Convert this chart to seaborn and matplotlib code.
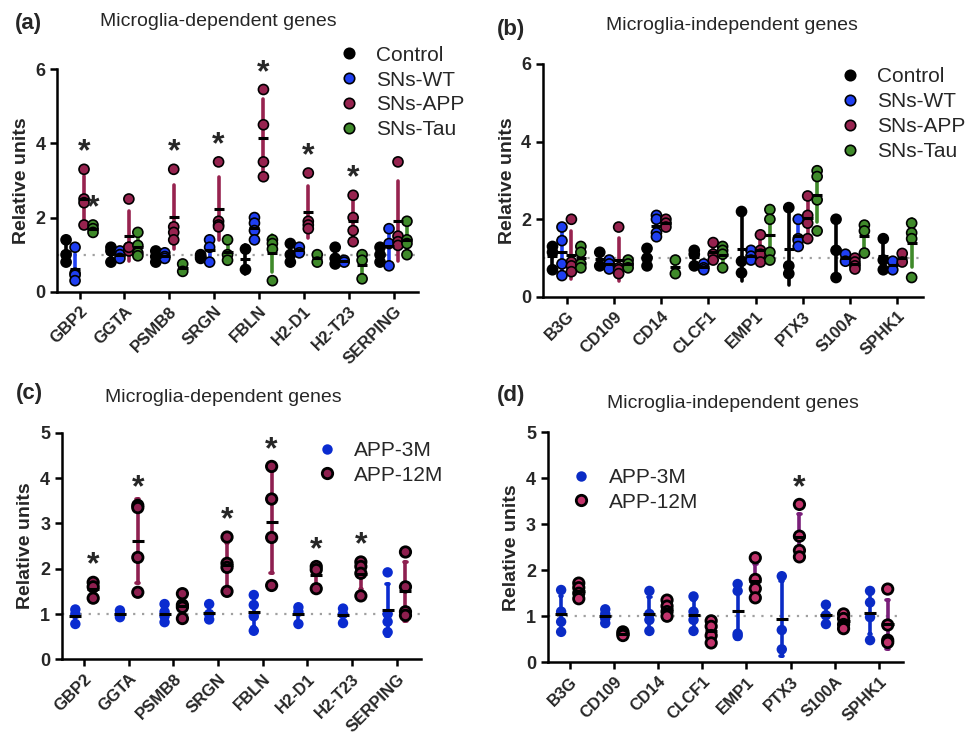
import numpy as np
import pandas as pd
import matplotlib
matplotlib.use('Agg')
import matplotlib.pyplot as plt
import seaborn as sns
from matplotlib.lines import Line2D

# ---- genes ----
genes_dep = ['GBP2', 'GGTA', 'PSMB8', 'SRGN', 'FBLN', 'H2-D1', 'H2-T23', 'SERPING']
genes_ind = ['B3G', 'CD109', 'CD14', 'CLCF1', 'EMP1', 'PTX3', 'S100A', 'SPHK1']

# ---- (a) microglia-dependent, per gene replicates ----
a_control = [[1.4, 1.0, 0.8], [1.2, 1.1, 0.8], [1.1, 0.95, 0.8], [1.0, 0.95, 0.9],
             [1.15, 0.6], [1.3, 1.0, 0.8], [1.2, 0.9, 0.75], [1.2, 1.0, 0.8]]
a_wt = [[1.2, 0.5, 0.45, 0.3], [1.1, 1.0, 0.9], [1.05, 0.95, 0.9], [1.4, 1.2, 0.8],
        [2.0, 1.85, 1.65, 1.4], [1.2, 1.05], [0.85, 0.8], [1.7, 1.3, 0.7]]
a_app = [[3.3, 2.5, 2.4, 1.8], [2.5, 1.2, 1.1, 1.2], [3.3, 1.75, 1.6, 1.4], [3.5, 1.9, 1.8, 1.75],
         [5.45, 4.5, 3.5, 3.1], [3.2, 1.9, 1.8, 1.7], [2.6, 2.0, 1.65, 1.35], [3.5, 1.5, 1.35, 1.25]]
a_tau = [[1.8, 1.7, 1.6], [1.6, 1.25, 1.05, 0.97], [0.75, 0.55], [1.4, 1.0, 0.85],
         [1.4, 1.3, 1.15, 0.3], [1.0, 0.8], [1.0, 0.85, 0.35], [1.9, 1.4, 1.3, 1.0]]
a_sig_app = ['GBP2', 'PSMB8', 'SRGN', 'FBLN', 'H2-D1', 'H2-T23']
a_sig_tau = ['GBP2']

# ---- (b) microglia-independent ----
b_control = [[1.3, 1.15, 0.7], [1.15, 0.8], [1.25, 1.0, 0.8], [1.2, 1.1, 0.8],
             [2.2, 0.92, 0.62], [2.3, 0.8, 0.6], [2.0, 1.2, 0.5], [1.5, 0.95, 0.7]]
b_wt = [[1.8, 1.45, 0.85, 0.55], [0.95, 0.85, 0.72], [2.1, 2.0, 1.65, 1.55], [0.85, 0.75, 0.7],
        [1.2, 1.05, 0.95], [2.0, 1.5, 1.45, 1.3], [1.1, 0.92], [0.92, 0.7]]
b_app = [[2.0, 0.9, 0.8, 0.65], [1.8, 0.75, 0.7, 0.6], [2.0, 1.9, 1.8], [1.4, 1.1, 0.95],
         [1.6, 1.2, 1.1, 0.9], [2.6, 2.1, 1.9, 1.5], [1.0, 0.9, 0.8, 0.72], [1.12, 0.9]]
b_tau = [[1.3, 1.15, 0.85, 0.75], [0.95, 0.85, 0.75], [0.95, 0.6], [1.3, 1.2, 1.1, 0.75],
         [2.25, 2.0, 1.15, 0.95], [3.25, 3.1, 2.5, 1.7], [1.85, 1.7, 1.13], [1.9, 1.65, 1.5, 0.5]]

# ---- (c) microglia-dependent, APP 3M vs 12M ----
c_3m = [[1.1, 1.0, 0.78], [1.08, 1.0, 0.93], [1.22, 1.05, 0.95, 0.82], [1.22, 1.0, 0.88],
        [1.42, 1.2, 0.95, 0.63], [1.15, 1.05, 0.78], [1.12, 1.0, 0.8], [1.92, 1.0, 0.83, 0.6]]
c_12m = [[1.7, 1.6, 1.35], [3.4, 3.35, 2.25, 1.48], [1.45, 1.2, 1.15, 0.9], [2.7, 2.12, 2.03, 1.5],
         [4.26, 3.54, 2.69, 1.63], [2.05, 1.98, 1.56], [2.15, 2.05, 1.9, 1.4], [2.37, 1.6, 1.05, 0.97]]
c_sig = ['GBP2', 'GGTA', 'SRGN', 'FBLN', 'H2-D1', 'H2-T23']

# ---- (d) microglia-independent, APP 3M vs 12M ----
d_3m = [[1.57, 1.1, 0.88, 0.66], [1.15, 1.05, 0.95, 0.85], [1.55, 1.05, 0.92, 0.68], [1.43, 1.1, 0.92, 0.68],
        [1.7, 1.55, 0.62, 0.57], [1.87, 0.7, 0.28], [1.25, 1.02, 0.83], [1.55, 1.3, 0.98, 0.48]]
d_12m = [[1.72, 1.62, 1.5, 1.38], [0.66, 0.62, 0.58], [1.35, 1.22, 1.1, 1.0], [0.9, 0.78, 0.58, 0.42],
         [2.27, 1.8, 1.6, 1.4], [3.43, 2.74, 2.43, 2.29], [1.05, 0.95, 0.82, 0.73], [1.59, 0.81, 0.48, 0.43]]
d_sig = ['PTX3']

groups4 = ['Control', 'SNs-WT', 'SNs-APP', 'SNs-Tau']
groups2 = ['APP-3M', 'APP-12M']


def long_table(genes, groups, values):
    rows = []
    for grp, vals in zip(groups, values):
        for g, v in zip(genes, vals):
            for x in v:
                rows.append((g, grp, x))
    return pd.DataFrame(rows, columns=['gene', 'group', 'value'])


def draw_panel(ax, df, genes, groups, fill, edge, edge_w, bar, dot, mean_w, cap, ymax, stars):
    n = len(groups)
    dodge_w = 0.6 if n == 4 else 0.4
    offsets = np.linspace(-dodge_w / 2, dodge_w / 2, n)

    ax.axhline(1, color='#a0a0a0', lw=1.6, ls=(0, (1, 3)), zorder=0)

    # mean +/- SD bars
    sns.pointplot(data=df, x='gene', y='value', hue='group', order=genes, hue_order=groups,
                  palette=dict(zip(groups, bar)), dodge=dodge_w, errorbar='sd', capsize=cap,
                  linestyle='none', markersize=0, legend=False,
                  err_kws={'linewidth': 2.6, 'zorder': 2}, ax=ax)

    # replicate points, one call per group so edges can differ
    for grp, fc, ec, lw in zip(groups, fill, edge, edge_w):
        sns.stripplot(data=df[df.group == grp], x='gene', y='value', hue='group',
                      order=genes, hue_order=groups, palette={g: fc for g in groups},
                      dodge=True, jitter=False, size=dot, edgecolor=ec, linewidth=lw,
                      legend=False, zorder=3, ax=ax)

    # mean line
    sns.pointplot(data=df, x='gene', y='value', hue='group', order=genes, hue_order=groups,
                  palette={g: 'black' for g in groups}, dodge=dodge_w, errorbar=None,
                  linestyle='none', marker='_', markersize=mean_w, markeredgewidth=2.2,
                  legend=False, zorder=4, ax=ax)

    # significance stars
    for grp, sig in stars:
        k = groups.index(grp)
        for g in sig:
            top = df[(df.group == grp) & (df.gene == g)].value.max()
            ax.annotate('*', (genes.index(g) + offsets[k], top), xytext=(0, 12),
                        textcoords='offset points', ha='center', va='center',
                        fontsize=23, fontweight='bold')

    ax.set_xlim(-0.5, 7.55)
    ax.set_ylim(0, ymax)
    ax.set_yticks(np.arange(0, ymax + 0.1, 2 if ymax == 6 else 1))
    ax.set_xticks(range(len(genes)))
    ax.set_xticklabels(genes, rotation=45, ha='right', rotation_mode='anchor',
                       fontsize=12, fontweight='bold')
    for lbl in ax.get_yticklabels():
        lbl.set_fontweight('bold')
    ax.tick_params(axis='both', width=1.8, length=5, color='black')
    ax.tick_params(axis='y', labelsize=13)
    ax.set_xlabel('')
    ax.set_ylabel('Relative units', fontsize=14, fontweight='bold', labelpad=4)
    sns.despine(ax=ax)
    for s in ['left', 'bottom']:
        ax.spines[s].set_linewidth(1.8)
        ax.spines[s].set_color('black')


def add_legend(ax, groups, fill, edge, edge_w, anchor):
    handles = [Line2D([], [], marker='o', ls='none', markersize=7.5, markerfacecolor=fc,
                      markeredgecolor=ec if lw > 0 else fc, markeredgewidth=max(lw, 0.01))
               for fc, ec, lw in zip(fill, edge, edge_w)]
    ax.legend(handles, groups, loc='upper left', bbox_to_anchor=anchor, frameon=False,
              fontsize=15, handlelength=1.0, handletextpad=0.8, labelspacing=0.28,
              borderpad=0, borderaxespad=0)


sns.set_theme(style='ticks')
plt.rcParams['font.family'] = ['Liberation Sans', 'DejaVu Sans']

fig = plt.figure(figsize=(9.68, 7.35), dpi=100)
ax_a = fig.add_axes([0.059, 0.603, 0.373, 0.303])
ax_b = fig.add_axes([0.561, 0.596, 0.393, 0.317])
ax_c = fig.add_axes([0.064, 0.103, 0.371, 0.308])
ax_d = fig.add_axes([0.566, 0.099, 0.367, 0.313])

# colours
fill4 = ['#000000', '#1f3ff2', '#97234f', '#3f8a2a']
edge4 = ['black'] * 4
ew4 = [1.2] * 4
bar4 = ['#000000', '#1f3ff2', '#97234f', '#3f8a2a']

df_a = long_table(genes_dep, groups4, [a_control, a_wt, a_app, a_tau])
draw_panel(ax_a, df_a, genes_dep, groups4, fill4, edge4, ew4, bar4, 7.2, 6.5, 0.0, 6,
           [('SNs-APP', a_sig_app), ('SNs-Tau', a_sig_tau)])
add_legend(ax_a, groups4, fill4, edge4, ew4, (0.78, 1.105))

df_b = long_table(genes_ind, groups4, [b_control, b_wt, b_app, b_tau])
draw_panel(ax_b, df_b, genes_ind, groups4, fill4, edge4, ew4, bar4, 7.2, 6.5, 0.0, 6, [])
add_legend(ax_b, groups4, fill4, edge4, ew4, (0.78, 0.985))

fill_c = ['#0a2bd0', '#8e1f4f']
edge2 = ['none', 'black']
ew2 = [0, 2.0]
df_c = long_table(genes_dep, groups2, [c_3m, c_12m])
draw_panel(ax_c, df_c, genes_dep, groups2, fill_c, edge2, ew2, ['#0a2bd0', '#8e2050'],
           7.5, 9, 0.06, 5, [('APP-12M', c_sig)])
add_legend(ax_c, groups2, fill_c, edge2, ew2, (0.71, 0.965))

fill_d = ['#0a2bc5', '#c2336b']
df_d = long_table(genes_ind, groups2, [d_3m, d_12m])
draw_panel(ax_d, df_d, genes_ind, groups2, fill_d, edge2, ew2, ['#0a2bc5', '#7a1f7a'],
           7.5, 9, 0.06, 5, [('APP-12M', d_sig)])
add_legend(ax_d, groups2, fill_d, edge2, ew2, (0.065, 0.845))

# panel letters and titles (figure pixel positions / size)
W, H = 968, 735
for letter, lx, ly, title, tx, ty in [('(a)', 15, 24, 'Microglia-dependent genes', 100, 21),
                                       ('(b)', 497, 30, 'Microglia-independent genes', 606, 25),
                                       ('(c)', 16, 393, 'Microglia-dependent genes', 105, 398),
                                       ('(d)', 497, 396, 'Microglia-independent genes', 607, 403)]:
    fig.text(lx / W, 1 - ly / H, letter, fontsize=16, fontweight='bold', ha='left', va='center')
    fig.text(tx / W, 1 - ty / H, title, fontsize=14, ha='left', va='center')

fig.savefig('out.png', dpi=100)
